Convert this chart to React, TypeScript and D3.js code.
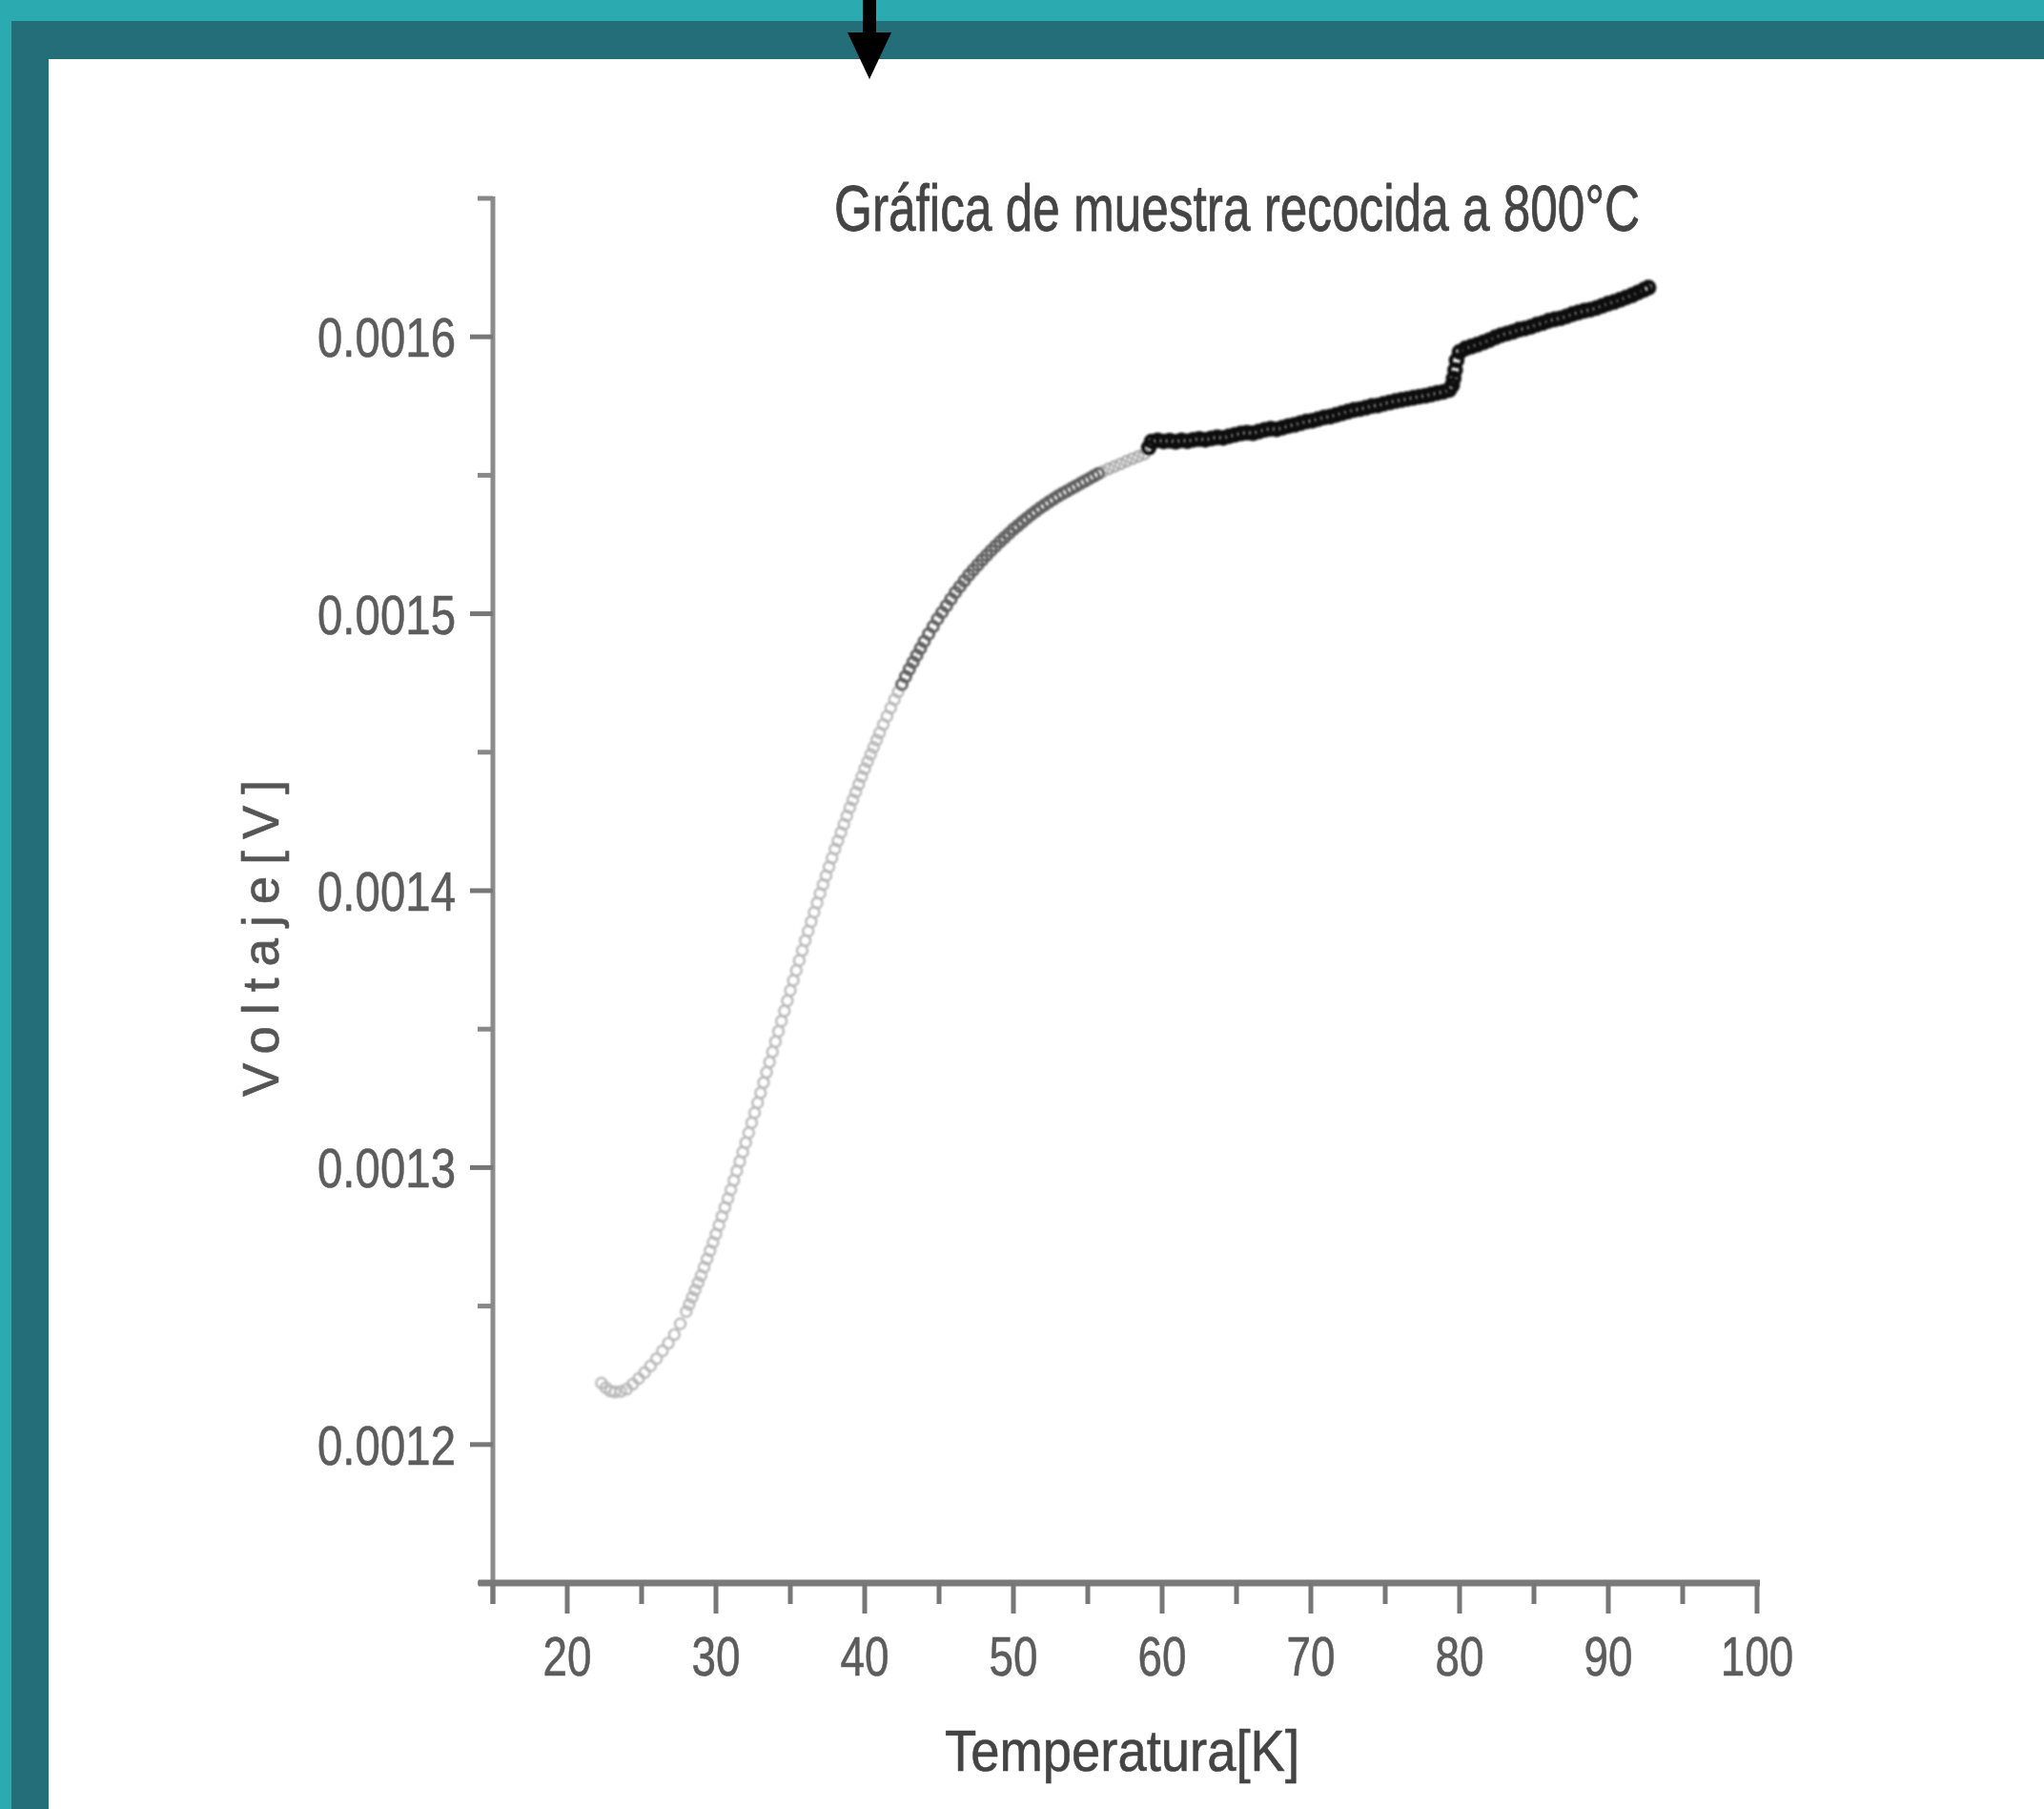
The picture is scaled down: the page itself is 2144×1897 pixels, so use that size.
import React from "react";
import * as d3 from "d3";

// ---------- data ----------
const title = "Gráfica de muestra recocida a 800°C";
const xLabel = "Temperatura[K]";
const yLabel = "Voltaje[V]";

const xMajorTicks = [20, 30, 40, 50, 60, 70, 80, 90, 100];
const xTickLabels = ["20", "30", "40", "50", "60", "70", "80", "90", "100"];
const xMinorTicks = [15, 25, 35, 45, 55, 65, 75, 85, 95];
const yMajorTicks = [0.0012, 0.0013, 0.0014, 0.0015, 0.0016];
const yTickLabels = ["0.0012", "0.0013", "0.0014", "0.0015", "0.0016"];
const yMinorTicks = [0.00115, 0.00125, 0.00135, 0.00145, 0.00155, 0.00165];

// [Temperature K, Voltage mV] – light grey part of the sweep
const lowSweep: [number, number][] = [
  [22.3, 1.2222], [22.6, 1.2205], [22.9, 1.2193], [23.2, 1.219], [23.6, 1.2192],
  [24.0, 1.22], [24.4, 1.2218], [24.8, 1.2238], [25.2, 1.226], [25.6, 1.2284],
  [26.0, 1.231], [26.4, 1.2338], [26.8, 1.2366], [27.2, 1.2397], [27.6, 1.2436],
  [28.0, 1.248], [28.2, 1.2506], [28.4, 1.2532], [28.6, 1.2558], [28.8, 1.2584],
  [29.0, 1.261], [29.2, 1.264], [29.4, 1.267], [29.6, 1.27], [29.8, 1.273],
  [30.0, 1.276], [30.2, 1.2792], [30.4, 1.2824], [30.6, 1.2856], [30.8, 1.2888],
  [31.0, 1.292], [31.2, 1.2954], [31.4, 1.2988], [31.6, 1.3022], [31.8, 1.3056],
  [32.0, 1.309], [32.2, 1.3126], [32.4, 1.3162], [32.6, 1.3198], [32.8, 1.3234],
  [33.0, 1.327], [33.2, 1.3307], [33.4, 1.3344], [33.6, 1.3381], [33.8, 1.3418],
  [34.0, 1.3455], [34.2, 1.3492], [34.4, 1.3529], [34.6, 1.3566], [34.8, 1.3603],
  [35.0, 1.364], [35.2, 1.3676], [35.4, 1.3712], [35.6, 1.3748], [35.8, 1.3784],
  [36.0, 1.382], [36.2, 1.3854], [36.4, 1.3888], [36.6, 1.3922], [36.8, 1.3956],
  [37.0, 1.399], [37.2, 1.4022], [37.4, 1.4054], [37.6, 1.4086], [37.8, 1.4118],
  [38.0, 1.415], [38.2, 1.418], [38.4, 1.421], [38.6, 1.424], [38.8, 1.427],
  [39.0, 1.43], [39.2, 1.4328], [39.4, 1.4356], [39.6, 1.4384], [39.8, 1.4412],
  [40.0, 1.444], [40.2, 1.4466], [40.4, 1.4492], [40.6, 1.4518], [40.8, 1.4544],
  [41.0, 1.457], [41.25, 1.46], [41.5, 1.463], [41.75, 1.466], [42.0, 1.469],
  [42.25, 1.4718],
];

// medium grey part of the sweep
const midSweep: [number, number][] = [
  [42.5, 1.4745], [42.75, 1.4773], [43.0, 1.48], [43.25, 1.4825],
  [43.5, 1.485], [43.75, 1.4875], [44.0, 1.49],
  [44.3, 1.4927], [44.6, 1.4954], [44.9, 1.4981], [45.2, 1.5005], [45.5, 1.5029],
  [45.8, 1.5053], [46.1, 1.5077], [46.4, 1.5098], [46.7, 1.5119], [47.0, 1.514],
  [47.3, 1.5158], [47.6, 1.5176], [47.9, 1.5194], [48.2, 1.5211], [48.5, 1.5228],
  [48.8, 1.5244], [49.1, 1.526], [49.4, 1.5275], [49.7, 1.529], [50.0, 1.5305],
  [50.3, 1.5318], [50.6, 1.5332], [50.9, 1.5345], [51.2, 1.5358], [51.5, 1.537],
  [51.8, 1.5382], [52.1, 1.5393], [52.4, 1.5404], [52.7, 1.5414], [53.0, 1.5425],
  [53.3, 1.5434], [53.6, 1.5443], [53.9, 1.5452], [54.2, 1.5461], [54.5, 1.547],
  [54.8, 1.5479], [55.1, 1.5488], [55.4, 1.5497], [55.7, 1.5506],
];

// light gap before the step at ~59 K
const gapSweep: [number, number][] = [
  [56.0, 1.5513], [56.4, 1.5523], [56.8, 1.5532], [57.2, 1.5541], [57.6, 1.5551],
  [58.0, 1.556], [58.4, 1.5568], [58.8, 1.5577],
];

// dense black part of the sweep
const highSweep: [number, number][] = [
  [59.1, 1.56], [59.3, 1.5622], [59.7, 1.5626], [60.1, 1.5622], [60.5, 1.5625],
  [60.9, 1.5621], [61.3, 1.5626], [61.7, 1.5623], [62.1, 1.5628], [62.5, 1.5631],
  [62.9, 1.5628], [63.3, 1.5633], [63.7, 1.5637], [64.1, 1.5635], [64.5, 1.5641],
  [64.9, 1.5646], [65.3, 1.5651], [65.7, 1.5654], [66.1, 1.5652], [66.5, 1.5658],
  [66.9, 1.5664], [67.3, 1.5668], [67.7, 1.5666], [68.1, 1.5672], [68.5, 1.5678],
  [68.9, 1.5682], [69.3, 1.5688], [69.7, 1.5694], [70.1, 1.5697], [70.5, 1.5703],
  [70.9, 1.5709], [71.3, 1.5712], [71.7, 1.5718], [72.1, 1.5724], [72.5, 1.573],
  [72.9, 1.5736], [73.3, 1.5739], [73.7, 1.5744], [74.1, 1.575], [74.5, 1.5752],
  [74.9, 1.5758], [75.3, 1.5763], [75.7, 1.5768], [76.1, 1.5772], [76.5, 1.5776],
  [76.9, 1.578], [77.3, 1.5784], [77.7, 1.5787], [78.1, 1.5792], [78.5, 1.5797],
  [78.9, 1.5801], [79.3, 1.5808], [79.5, 1.5825], [79.6, 1.585], [79.7, 1.588],
  [79.8, 1.5915], [80.0, 1.5945], [80.4, 1.5958], [80.8, 1.5965], [81.2, 1.5972],
  [81.6, 1.598], [82.0, 1.5988], [82.4, 1.5998], [82.8, 1.6006], [83.2, 1.6012],
  [83.6, 1.6018], [84.0, 1.6026], [84.4, 1.603], [84.8, 1.6036], [85.2, 1.6044],
  [85.6, 1.605], [86.0, 1.6058], [86.4, 1.6063], [86.8, 1.6067], [87.2, 1.6074],
  [87.6, 1.6082], [88.0, 1.6088], [88.4, 1.6094], [88.8, 1.6098], [89.2, 1.6104],
  [89.6, 1.6112], [90.0, 1.612], [90.4, 1.6126], [90.8, 1.6134], [91.2, 1.6142],
  [91.6, 1.615], [92.0, 1.616], [92.4, 1.617], [92.7, 1.6178],
];

// ---------- layout ----------
const W = 2144;
const H = 1897;
const FONT = "'Liberation Sans', Arial, sans-serif";

export default function App() {
  const x = d3.scaleLinear().domain([15, 100]).range([517, 1843]);
  const y = d3.scaleLinear().domain([0.00115, 0.00165]).range([1660, 208]);
  const mv = (v: number) => v / 1000;

  const series = [
    { data: lowSweep, stroke: "#b4b4b4", sw: 2.2, r: 5.5 },
    { data: gapSweep, stroke: "#a6a6a6", sw: 2.2, r: 5.5 },
    { data: midSweep, stroke: "#5e5e5e", sw: 3, r: 5.5 },
    { data: highSweep, stroke: "#0d0d0d", sw: 4.6, r: 6 },
  ];

  return (
    <svg
      width={W}
      height={H}
      viewBox={`0 0 ${W} ${H}`}
      style={{ position: "absolute", left: 0, top: 0, display: "block" }}
    >
      <defs>
        <filter id="soft" x="-5%" y="-5%" width="110%" height="110%">
          <feGaussianBlur stdDeviation="0.8" />
        </filter>
      </defs>
      {/* slide frame */}
      <rect x={0} y={0} width={W} height={H} fill="#2babb0" />
      <rect x={12} y={22} width={W - 12} height={H - 22} fill="#236e78" />
      <rect x={51} y={62} width={W - 51} height={H - 62} fill="#ffffff" />
      {/* arrow */}
      <rect x={905} y={0} width={14} height={36} fill="#000" />
      <path d="M889,34 L935,34 L912,83 Z" fill="#000" />

      {/* title */}
      <text
        x={875}
        y={242}
        fontFamily={FONT}
        fontSize={68}
        fill="#444"
        stroke="#444"
        strokeWidth={0.8}
        textLength={845}
        lengthAdjust="spacingAndGlyphs"
      >
        {title}
      </text>

      {/* y axis */}
      <line x1={517} x2={517} y1={y(0.00165) - 2} y2={1682} stroke="#8c8c8c" strokeWidth={5} />
      {yMinorTicks.map((t) => (
        <line key={"ym" + t} x1={501} x2={517} y1={y(t)} y2={y(t)} stroke="#888" strokeWidth={5} />
      ))}
      {yMajorTicks.map((t, i) => (
        <g key={"yM" + t}>
          <line x1={493} x2={517} y1={y(t)} y2={y(t)} stroke="#777" strokeWidth={5} />
          <text
            x={478}
            y={y(t) + 21}
            textAnchor="end"
            fontFamily={FONT}
            fontSize={58}
            fill="#5c5c5c"
            stroke="#5c5c5c"
            strokeWidth={0.6}
            textLength={145}
            lengthAdjust="spacingAndGlyphs"
          >
            {yTickLabels[i]}
          </text>
        </g>
      ))}

      {/* x axis */}
      <line x1={502} x2={x(100) + 3} y1={1660} y2={1660} stroke="#7a7a7a" strokeWidth={7} />
      {xMinorTicks.map((t) => (
        <line key={"xm" + t} x1={x(t)} x2={x(t)} y1={1660} y2={1682} stroke="#777" strokeWidth={5} />
      ))}
      {xMajorTicks.map((t, i) => (
        <g key={"xM" + t}>
          <line x1={x(t)} x2={x(t)} y1={1660} y2={1692} stroke="#777" strokeWidth={5} />
          <text
            x={x(t)}
            y={1757}
            textAnchor="middle"
            fontFamily={FONT}
            fontSize={58}
            fill="#5c5c5c"
            stroke="#5c5c5c"
            strokeWidth={0.6}
            textLength={xTickLabels[i].length * 25.5}
            lengthAdjust="spacingAndGlyphs"
          >
            {xTickLabels[i]}
          </text>
        </g>
      ))}

      {/* axis titles */}
      <text
        x={1177}
        y={1857}
        textAnchor="middle"
        fontFamily={FONT}
        fontSize={62}
        fill="#444"
        stroke="#444"
        strokeWidth={0.6}
        textLength={372}
        lengthAdjust="spacingAndGlyphs"
      >
        {xLabel}
      </text>
      <text
        transform="translate(292,984) rotate(-90)"
        textAnchor="middle"
        fontFamily={FONT}
        fontSize={53}
        fill="#555"
        stroke="#555"
        strokeWidth={0.6}
        textLength={332}
        lengthAdjust="spacing"
      >
        {yLabel}
      </text>

      {/* data */}
      <g filter="url(#soft)">
        {series.map((s, si) => (
          <g key={"s" + si} fill="none" stroke={s.stroke} strokeWidth={s.sw}>
            {s.data.map(([t, v], i) => (
              <circle key={i} cx={x(t)} cy={y(mv(v))} r={s.r} />
            ))}
          </g>
        ))}
      </g>
    </svg>
  );
}
